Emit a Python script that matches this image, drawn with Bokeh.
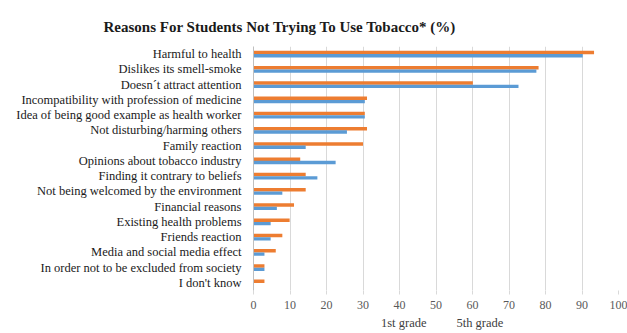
from bokeh.plotting import figure
from bokeh.layouts import column
from bokeh.models import ColumnDataSource, FactorRange, Legend, LegendItem, Title, Range1d
from bokeh.transform import dodge
from bokeh.embed import file_html
from bokeh.resources import INLINE

categories = [
    "Harmful to health",
    "Dislikes its smell-smoke",
    "Doesn\u00b4t attract attention",
    "Incompatibility with profession of medicine",
    "Idea of being good example as health worker",
    "Not disturbing/harming others",
    "Family reaction",
    "Opinions about tobacco industry",
    "Finding it contrary to beliefs",
    "Not being welcomed by the environment",
    "Financial reasons",
    "Existing health problems",
    "Friends reaction",
    "Media and social media effect",
    "In order not to be excluded from society",
    "I don't know",
]
grade1 = [93.3, 78.1, 60.1, 31.1, 30.5, 31.1, 30.0, 12.8, 14.3, 14.3, 11.1, 9.9, 7.9, 6.1, 3.0, 3.0]
grade5 = [90.2, 77.5, 72.6, 30.5, 30.5, 25.6, 14.3, 22.5, 17.5, 7.9, 6.4, 4.7, 4.7, 3.0, 3.0, 0.0]
series_names = ["1st grade", "5th grade"]
x_ticks = [0, 10, 20, 30, 40, 50, 60, 70, 80, 90, 100]

ORANGE = "#ED7D31"
BLUE = "#5B9BD5"
FONT = "Liberation Serif"

src = ColumnDataSource(dict(cat=categories, g1=grade1, g5=grade5))

p = figure(
    width=627, height=312,
    y_range=FactorRange(*list(reversed(categories)), range_padding=0),
    x_range=Range1d(0, 100),
    output_backend="svg", toolbar_location=None,
    min_border_left=253, min_border_right=9, min_border_top=46, min_border_bottom=22,
)
p.add_layout(Title(text="Reasons For Students Not Trying To Use Tobacco* (%)",
                   text_font=FONT, text_font_size="15px", text_font_style="bold",
                   text_color="#1a1a1a", align="left", offset=-150, standoff=24), "above")

p.hbar(y=dodge("cat", 0.11, range=p.y_range), right="g1", left=0, height=0.22,
       source=src, color=ORANGE, line_color=None)
p.hbar(y=dodge("cat", -0.11, range=p.y_range), right="g5", left=0, height=0.22,
       source=src, color=BLUE, line_color=None)

p.outline_line_color = None
p.ygrid.grid_line_color = None
p.xgrid.grid_line_color = "#d9d9d9"
p.xgrid.ticker = x_ticks
p.xaxis.ticker = x_ticks
p.xaxis.axis_line_color = None
p.xaxis.major_tick_line_color = "#d9d9d9"
p.xaxis.major_tick_in = 0
p.xaxis.major_tick_out = 4
p.xaxis.minor_tick_line_color = None
p.xaxis.major_label_text_font = FONT
p.xaxis.major_label_text_font_size = "12px"
p.xaxis.major_label_text_color = "#595959"
p.xaxis.major_label_standoff = 6

p.yaxis.axis_line_color = "#bfbfbf"
p.yaxis.major_tick_line_color = None
p.yaxis.minor_tick_line_color = None
p.yaxis.major_label_text_font = FONT
p.yaxis.major_label_text_font_size = "12.5px"
p.yaxis.major_label_text_color = "#1a1a1a"
p.yaxis.major_label_standoff = 6

# legend strip below the chart (frame aligned with the chart frame)
lf = figure(width=627, height=21, x_range=Range1d(0, 1), y_range=Range1d(0, 1),
            x_axis_type=None, y_axis_type=None, output_backend="svg",
            toolbar_location=None, min_border_left=253, min_border_right=9,
            min_border_top=0, min_border_bottom=0)
lf.outline_line_color = None
lf.xgrid.visible = False
lf.ygrid.visible = False
empty = ColumnDataSource(dict(y=[], r=[]))
l1 = lf.hbar(y="y", right="r", height=0.1, source=empty, color=ORANGE, line_color=None)
l2 = lf.hbar(y="y", right="r", height=0.1, source=empty, color=BLUE, line_color=None)
legend = Legend(items=[LegendItem(label=series_names[0], renderers=[l1]),
                       LegendItem(label=series_names[1], renderers=[l2])],
                orientation="horizontal", location=(116, 2),
                label_text_font=FONT, label_text_font_size="12.5px",
                label_text_color="#404040", label_standoff=4,
                glyph_width=8, glyph_height=8, spacing=18, padding=0, margin=0,
                border_line_color=None, background_fill_alpha=0)
lf.add_layout(legend, "center")

open("out.html", "w").write(file_html(column(p, lf, spacing=0), INLINE))
